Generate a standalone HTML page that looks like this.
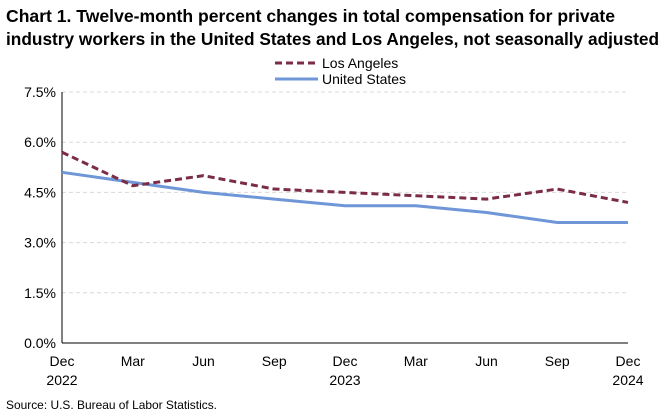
<!DOCTYPE html>
<html><head><meta charset="utf-8"><style>
body{margin:0;background:#fff;font-family:"Liberation Sans",Arial,sans-serif;}
svg{display:block}
</style></head><body>
<svg width="668" height="413" viewBox="0 0 668 413">
<text x="6" y="22" font-size="17.5" font-weight="bold" fill="#000" textLength="609" lengthAdjust="spacingAndGlyphs">Chart 1. Twelve-month percent changes in total compensation for private</text>
<text x="6" y="45" font-size="17.5" font-weight="bold" fill="#000" textLength="653" lengthAdjust="spacingAndGlyphs">industry workers in the United States and Los Angeles, not seasonally adjusted</text>
<g>
<line x1="275" y1="63" x2="318" y2="63" stroke="#7b2c47" stroke-width="3" stroke-dasharray="7,4"/>
<text x="322" y="68" font-size="14">Los Angeles</text>
<line x1="275" y1="79" x2="318" y2="79" stroke="#6f97d8" stroke-width="3"/>
<text x="322" y="84" font-size="14">United States</text>
</g>
<g id="grid"></g><g id="axes"></g><g id="series"></g>
<text x="6" y="409" font-size="12" textLength="211" lengthAdjust="spacingAndGlyphs">Source: U.S. Bureau of Labor Statistics.</text>
</svg>
<script>
const categories=["Dec|2022","Mar","Jun","Sep","Dec|2023","Mar","Jun","Sep","Dec|2024"];
const laValues=[5.7,4.7,5.0,4.6,4.5,4.4,4.3,4.6,4.2];
const usValues=[5.1,4.8,4.5,4.3,4.1,4.1,3.9,3.6,3.6];
const yTicks=[0,1.5,3.0,4.5,6.0,7.5];
const yTickLabels=["0.0%","1.5%","3.0%","4.5%","6.0%","7.5%"];
const NS="http://www.w3.org/2000/svg";
const x0=62,x1=628,yb=343,yt=92,ymax=7.5;
const xs=i=>x0+(x1-x0)*i/(categories.length-1);
const ys=v=>yb-(yb-yt)*v/ymax;
function mk(t,a,p){const e=document.createElementNS(NS,t);for(const k in a)e.setAttribute(k,a[k]);p.appendChild(e);return e;}
const g=document.getElementById('grid'),ax=document.getElementById('axes'),s=document.getElementById('series');
yTicks.forEach((v,i)=>{
 if(v>0){const l=mk('line',{x1:x0,x2:x1,y1:ys(v),y2:ys(v),stroke:'#d9d9d9','stroke-dasharray':'4,3'},g);
 
 }
 const t=mk('text',{x:x0-6,y:ys(v)+5,'font-size':14,'text-anchor':'end'},ax);t.textContent=yTickLabels[i];
 
 
});
const ya=mk('line',{x1:x0,x2:x0,y1:yt,y2:yb,stroke:'#000'},ax);


const xa=mk('line',{x1:x0,x2:x1,y1:yb,y2:yb,stroke:'#000'},ax);


categories.forEach((c,i)=>{
 const parts=c.split('|');
 parts.forEach((p,j)=>{const t=mk('text',{x:xs(i),y:yb+23+j*19,'font-size':14,'text-anchor':'middle'},ax);t.textContent=p;
 
 });
});
function line(vals,attrs,name){
 const d=vals.map((v,i)=>(i?'L':'M')+xs(i)+','+ys(v)).join(' ');
 const p=mk('path',Object.assign({d:d,fill:'none','stroke-width':3,'stroke-linejoin':'round'},attrs),s);
 
 
}
line(usValues,{stroke:'#6f97d8'},'series-united-states');
line(laValues,{stroke:'#7b2c47','stroke-dasharray':'7,4'},'series-los-angeles');
</script>
</body></html>
